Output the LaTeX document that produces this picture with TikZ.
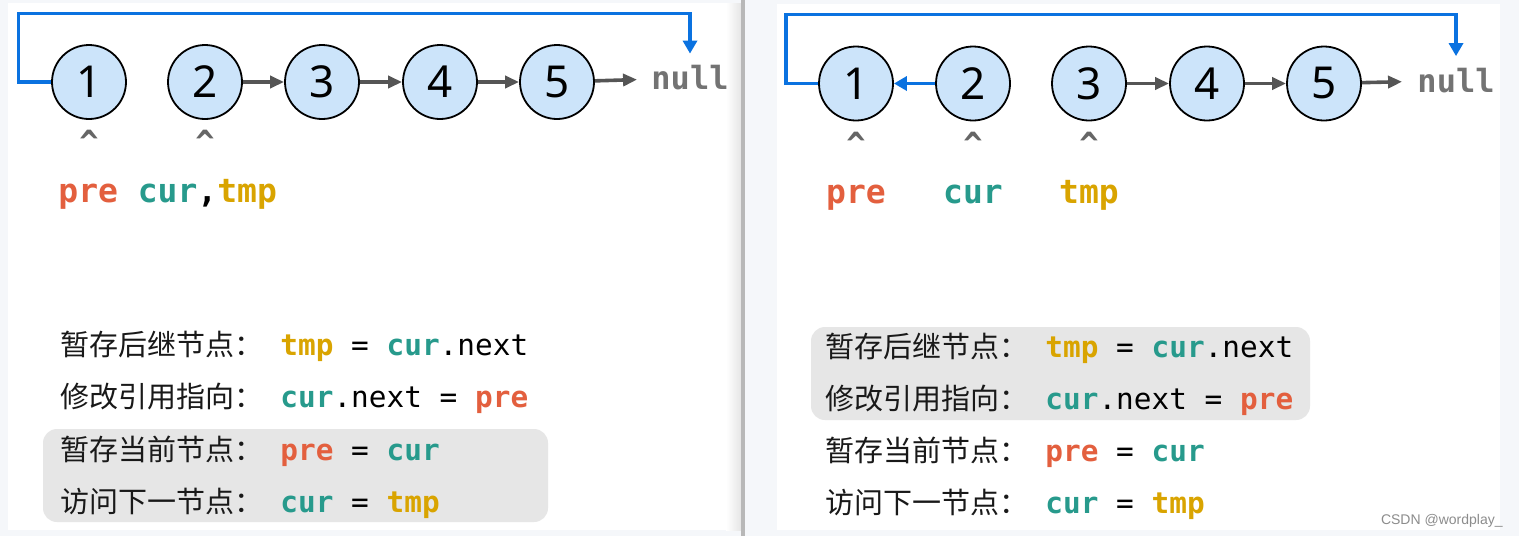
\documentclass[tikz,border=0pt]{standalone}
\usepackage{fontspec}
\setmainfont{Noto Sans}
\setmonofont{DejaVu Sans Mono}
\newfontfamily\cjk{Noto Sans CJK SC}
\newfontfamily\wmfont{Liberation Sans}
\usepackage{tikz}
\usetikzlibrary{positioning,arrows.meta,calc}
\definecolor{nodeblue}{HTML}{CCE4FA}
\definecolor{linkgray}{HTML}{555555}
\definecolor{revblue}{HTML}{0A72E0}
\definecolor{prered}{HTML}{E35F3E}
\definecolor{curteal}{HTML}{279A8C}
\definecolor{tmpgold}{HTML}{D9A400}
\definecolor{pagebg}{HTML}{F5F7FA}
\definecolor{stepgray}{HTML}{E6E6E6}
\newcommand{\vpre}{{\bfseries\color{prered}pre}}
\newcommand{\vcur}{{\bfseries\color{curteal}cur}}
\newcommand{\vtmp}{{\bfseries\color{tmpgold}tmp}}

\begin{document}
\begin{tikzpicture}[
  x=0.5pt, y=-0.5pt,
  listnode/.style={circle, draw=black, line width=0.9pt, fill=nodeblue, minimum size=37pt, inner sep=0pt, font=\fontsize{22}{22}\selectfont},
  link/.style={-{Triangle[length=7pt,width=6pt]}, line width=1.8pt, linkgray},
  revlink/.style={-{Triangle[length=6.5pt,width=7pt]}, line width=1.8pt, revblue},
  nullbox/.style={font=\ttfamily\bfseries\fontsize{16}{16}\selectfont, text=black!55, inner sep=0pt, minimum height=24pt},
  caret/.style={font=\ttfamily\bfseries\fontsize{16}{16}\selectfont, text=black!60, inner sep=0pt, anchor=base},
  varname/.style={font=\ttfamily\fontsize{16.5}{16.5}\selectfont, inner sep=0pt, anchor=base},
  steplabel/.style={font=\cjk\fontsize{14.5}{14.5}\selectfont, text=black!90, inner sep=0pt, anchor=base west},
  stepcode/.style={font=\ttfamily\fontsize{14.7}{14.7}\selectfont, inner sep=0pt, anchor=base west},
  hilite/.style={fill=stepgray, rounded corners=7pt}
]
\useasboundingbox (0,0) rectangle (1519,536);

% page and the two panels
\fill[pagebg] (0,0) rectangle (1519,536);
\fill[white] (8,3) rectangle (741,530);
\shade[left color=white, right color=black!10] (726,3) rectangle (741,530);
\fill[black!28] (741,0) rectangle (745,536);
\fill[white] (777,4) rectangle (1500,530);

% ---- left panel: before the step ----
\foreach \i/\x in {1/89,2/205,3/322,4/440,5/557}
  \node[listnode] (L\i) at (\x,82) {\i};
\node[nullbox] (Lnull) at (690,78) {null};

\foreach \a/\b in {2/3,3/4,4/5}
  \draw[link] (L\a) -- (L\b);
\draw[link, shorten >=7pt] (L5) -- (Lnull);
\draw[revlink] (L1.west) -- ++(-32.5,0) |- (Lnull.north |- 0,13.5) -- (Lnull.north);

\node[caret] (Lc1) at (89,153) {\^{}};
\node[caret] (Lc2) at (205,153) {\^{}};
\node[varname, anchor=base west] (Lvars) at (58,202) {\vpre{} \vcur{\bfseries,}\vtmp};

% steps (last two done)
\fill[hilite] (43,429) rectangle (548,522);
\node[steplabel] (Ls1) at (60,355) {暂存后继节点：};
\node[stepcode]  (Lk1) at (280,355) {\vtmp{} = \vcur.next};
\node[steplabel] (Ls2) at (60,407) {修改引用指向：};
\node[stepcode]  (Lk2) at (280,407) {\vcur.next = \vpre};
\node[steplabel] (Ls3) at (60,460) {暂存当前节点：};
\node[stepcode]  (Lk3) at (280,460) {\vpre{} = \vcur};
\node[steplabel] (Ls4) at (60,512) {访问下一节点：};
\node[stepcode]  (Lk4) at (280,512) {\vcur{} = \vtmp};

% ---- right panel: after the step ----
\foreach \i/\x in {1/856,2/973,3/1089,4/1207,5/1324}
  \node[listnode] (R\i) at (\x,83.5) {\i};
\node[nullbox] (Rnull) at (1456,80.5) {null};

\foreach \a/\b in {3/4,4/5}
  \draw[link] (R\a) -- (R\b);
\draw[link, shorten >=7.5pt] (R5) -- (Rnull);
\draw[revlink] (R2) -- (R1);
\draw[revlink] (R1.west) -- ++(-32,0) |- (Rnull.north |- 0,14.5) -- (Rnull.north);

\node[caret] (Rc1) at (856,155) {\^{}};
\node[caret] (Rc2) at (973,155) {\^{}};
\node[caret] (Rc3) at (1089,155) {\^{}};
\node[varname] (Rpre) at (856,203) {\vpre};
\node[varname] (Rcur) at (973,203) {\vcur};
\node[varname] (Rtmp) at (1089,203) {\vtmp};

% steps (first two done)
\fill[hilite] (811,327) rectangle (1310,420);
\node[steplabel] (Rs1) at (825,357) {暂存后继节点：};
\node[stepcode]  (Rk1) at (1045,357) {\vtmp{} = \vcur.next};
\node[steplabel] (Rs2) at (825,409) {修改引用指向：};
\node[stepcode]  (Rk2) at (1045,409) {\vcur.next = \vpre};
\node[steplabel] (Rs3) at (825,461.5) {暂存当前节点：};
\node[stepcode]  (Rk3) at (1045,461.5) {\vpre{} = \vcur};
\node[steplabel] (Rs4) at (825,513) {访问下一节点：};
\node[stepcode]  (Rk4) at (1045,513) {\vcur{} = \vtmp};

\node[font=\wmfont\fontsize{7}{7}\selectfont, text=black!45, anchor=base east, inner sep=0pt] (mark) at (1503,524) {CSDN @wordplay\_};
\end{tikzpicture}
\end{document}
